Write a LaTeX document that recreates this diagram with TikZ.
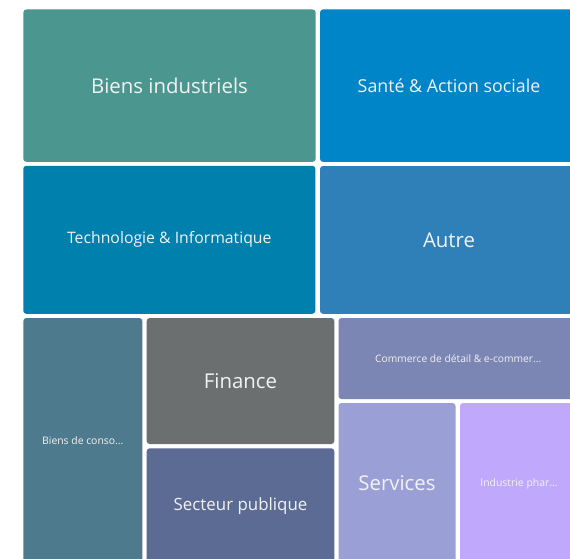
\documentclass[tikz,border=0pt]{standalone}
\usepackage{fontspec}
\setmainfont{Open Sans}
\definecolor{cBI}{HTML}{4C9690}
\definecolor{cSA}{HTML}{0085C8}
\definecolor{cTE}{HTML}{0080AD}
\definecolor{cAU}{HTML}{2F80B8}
\definecolor{cBC}{HTML}{4E7A8E}
\definecolor{cFI}{HTML}{6B6F70}
\definecolor{cSP}{HTML}{5B6B93}
\definecolor{cCO}{HTML}{7B86B4}
\definecolor{cSE}{HTML}{9AA0D6}
\definecolor{cIP}{HTML}{C0A8FC}
\definecolor{txt}{HTML}{F2F2F2}
\tikzset{
  cell/.style={rectangle, rounded corners=3pt, inner sep=0pt, text=txt, align=center},
  big/.style={font=\fontsize{20.4}{24}\selectfont},
  sante/.style={font=\fontsize{17.8}{21}\selectfont},
  secteur/.style={font=\fontsize{16.9}{20}\selectfont},
  med/.style={font=\fontsize{15.8}{19}\selectfont},
  small/.style={font=\fontsize{10.25}{12}\selectfont},
  tiny/.style={font=\fontsize{10.4}{12}\selectfont},
}
\begin{document}
\begin{tikzpicture}[x=1pt,y=-1pt]
\useasboundingbox (0,0) rectangle (570,559);
\fill[white] (0,0) rectangle (570,559);
\clip (0,0) rectangle (570,559);
\node[cell, big, fill=cBI, minimum width=292.4pt, minimum height=152.3pt] (bi) at (169.5,85.65) {Biens industriels};
\node[cell, sante, fill=cSA, minimum width=258pt, minimum height=152.3pt] (sa) at (449,85.65) {Santé \& Action sociale};
\node[cell, med, fill=cTE, minimum width=292pt, minimum height=148pt] (te) at (169.3,239.8) {Technologie \& Informatique};
\node[cell, big, fill=cAU, minimum width=258pt, minimum height=147.8pt] (au) at (449,239.9) {Autre};
\node[cell, tiny, fill=cBC, minimum width=119pt, minimum height=246pt] (bc) at (82.8,441) {Biens de conso...};
\node[cell, big, fill=cFI, minimum width=187.6pt, minimum height=126pt] (fi) at (240.5,381) {Finance};
\node[cell, secteur, fill=cSP, minimum width=187.6pt, minimum height=115.7pt] (sp) at (240.5,506.1) {Secteur publique};
\node[cell, small, fill=cCO, minimum width=239.5pt, minimum height=81pt] (co) at (458.25,358.5) {Commerce de détail \& e-commer...};
\node[cell, big, fill=cSE, minimum width=117pt, minimum height=161pt] (se) at (397,483.5) {Services};
\node[cell, tiny, fill=cIP, minimum width=118pt, minimum height=161pt] (ip) at (519,483.5) {Industrie phar...};
\end{tikzpicture}
\end{document}
